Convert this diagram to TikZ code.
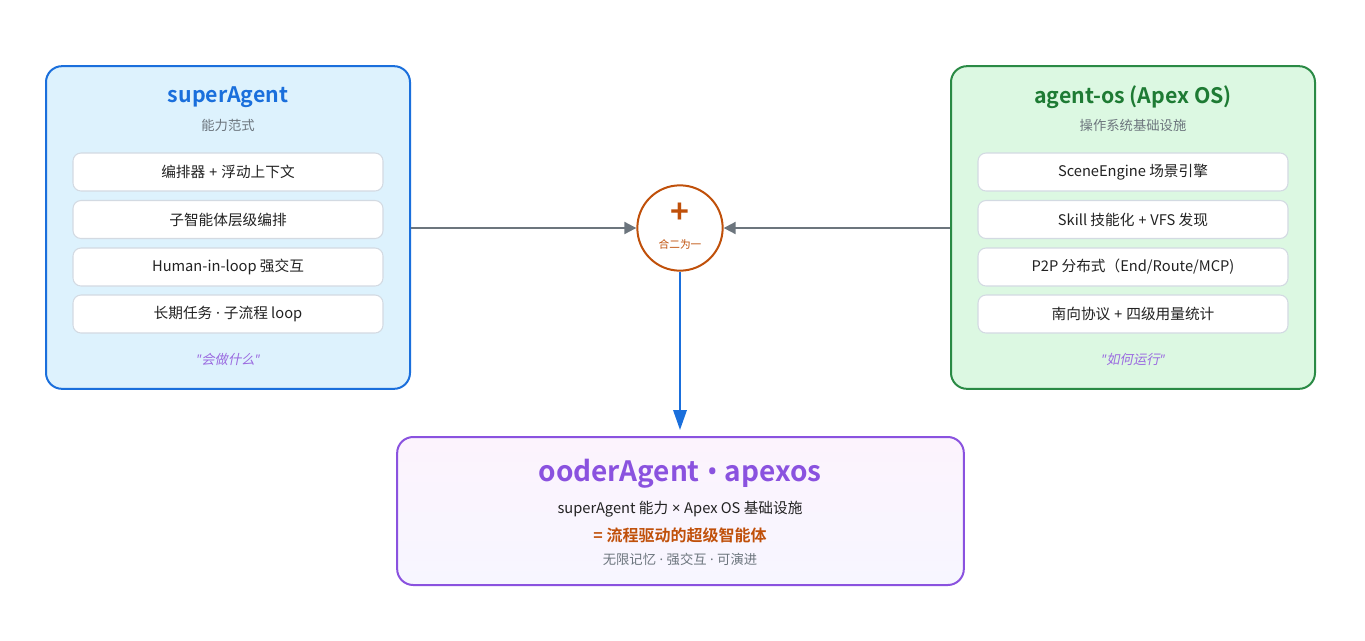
\documentclass[tikz,border=0pt]{standalone}
\usepackage{fontspec}
\setmainfont{Noto Sans CJK SC}
\newfontfamily\cjkb{Noto Sans CJK SC Bold}
\newfontfamily\cjki[FakeSlant=0.2]{Noto Sans CJK SC}
\newfontfamily\lat{Noto Sans}
\usetikzlibrary{arrows.meta,shapes.geometric}
\definecolor{bluebd}{HTML}{1A6FDC}
\definecolor{bluefill}{HTML}{DDF2FD}
\definecolor{greenbd}{HTML}{2A8A45}
\definecolor{greenfill}{HTML}{DCF8E2}
\definecolor{greentxt}{HTML}{1E7B34}
\definecolor{itembd}{HTML}{D3DAE2}
\definecolor{greytxt}{HTML}{6C757D}
\definecolor{darktxt}{HTML}{222222}
\definecolor{purp}{HTML}{8A52DF}
\definecolor{purptxt}{HTML}{9B6BE0}
\definecolor{orng}{HTML}{C0500A}
\definecolor{arrgrey}{HTML}{6C757D}
\definecolor{pinkfill}{HTML}{FCF3FD}
\definecolor{lavfill}{HTML}{F7F6FF}
\newcommand{\qq}{{\lat\itshape "}}
\newcommand{\md}{{\lat\ ·\ }}
\newcommand{\pl}{{\lat\ +\ }}
\tikzset{
  x=0.75pt, y=-0.75pt,
  bigbox/.style={rounded corners=12pt, line width=1.5pt},
  itembox/.style={draw=itembd, fill=white, rounded corners=6pt, line width=0.8pt, minimum width=232.5pt, minimum height=28.5pt, inner sep=0pt, font=\fontsize{11}{13}\selectfont, text=darktxt},
  ttl/.style={font=\cjkb\fontsize{16}{19}\selectfont},
  sub/.style={font=\fontsize{10}{12}\selectfont, text=greytxt},
  foot/.style={font=\cjki\fontsize{10}{12}\selectfont, text=purptxt},
  conn/.style={draw=arrgrey, line width=1.5pt, -{Triangle[length=9pt,width=9pt]}},
}
\begin{document}
\begin{tikzpicture}
\useasboundingbox (0,0) rectangle (1365,640);
% left box
\node[bigbox, draw=bluebd, fill=bluefill, minimum width=273pt, minimum height=242pt, inner sep=0pt] (L) at (228,227.5) {};
\node[ttl, text=bluebd] (Lt) at (228,97.5) {superAgent};
\node[sub] (Ls) at (228,125.5) {能力范式};
\node[itembox] (L1) at (228,172) {编排器\pl 浮动上下文};
\node[itembox] (L2) at (228,219.5) {子智能体层级编排};
\node[itembox] (L3) at (228,267) {Human-in-loop 强交互};
\node[itembox] (L4) at (228,314) {长期任务\md 子流程 loop};
\node[foot] (Lf) at (228,359.5) {\qq 会做什么\qq};
% right box
\node[bigbox, draw=greenbd, fill=greenfill, minimum width=273pt, minimum height=242pt, inner sep=0pt] (R) at (1133,227.5) {};
\node[ttl, text=greentxt] (Rt) at (1133,97.5) {agent-os (Apex OS)};
\node[sub] (Rs) at (1133,125.5) {操作系统基础设施};
\node[itembox] (R1) at (1133,172) {SceneEngine 场景引擎};
\node[itembox] (R2) at (1133,219.5) {Skill 技能化\pl VFS 发现};
\node[itembox] (R3) at (1133,267) {P2P 分布式（End/Route/MCP)};
\node[itembox] (R4) at (1133,314) {南向协议\pl 四级用量统计};
\node[foot] (Rf) at (1133,359.5) {\qq 如何运行\qq};
% circle
\node[circle, draw=orng, fill=white, line width=1.5pt, minimum size=64pt, inner sep=0pt] (C) at (680,228) {};
\node[font=\cjkb\fontsize{24}{26}\selectfont, text=orng] (Cp) at (680,213) {+};
\node[font=\fontsize{8}{10}\selectfont, text=orng] (Ct) at (680,244) {合二为一};
% bottom box
\node[bigbox, draw=purp, top color=pinkfill, bottom color=lavfill, minimum width=425pt, minimum height=111pt, inner sep=0pt] (B) at (680.5,511) {};
\node[font=\cjkb\fontsize{21}{24}\selectfont, text=purp] (Bt) at (680,474) {ooderAgent{\lat\bfseries\ •\ }apexos};
\node[font=\fontsize{11}{13}\selectfont, text=darktxt] (B2) at (680,509.5) {superAgent 能力{\lat\ ×\ }Apex OS 基础设施};
\node[font=\cjkb\fontsize{12}{14}\selectfont, text=orng] (B3) at (680,535.5) {= 流程驱动的超级智能体};
\node[font=\fontsize{10}{12}\selectfont, text=greytxt] (B4) at (680,559.5) {无限记忆\md 强交互\md 可演进};
% connectors
\draw[conn] (L.east |- C) -- (C.west);
\draw[conn] (R.west |- C) -- (C.east);
\coordinate (Bin) at (680,430);
\draw[draw=bluebd, line width=1.8pt, -{Triangle[length=15pt,width=10pt]}] (C.south) -- (Bin);
\end{tikzpicture}
\end{document}
